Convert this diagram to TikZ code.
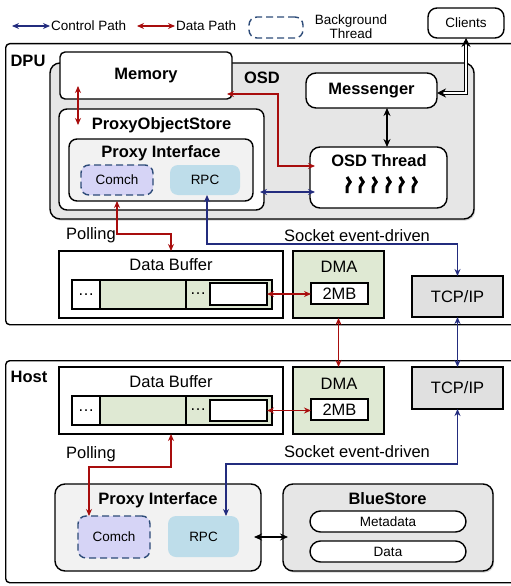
\documentclass[tikz,border=0pt]{standalone}
\usepackage{fontspec}
\setmainfont{Liberation Sans}
\usepackage{tikz}
\usetikzlibrary{arrows.meta, positioning, shadows, decorations.pathmorphing}
\definecolor{ctlblue}{HTML}{232C7E}
\definecolor{datared}{HTML}{A80D0D}
\definecolor{osdgray}{HTML}{E6E6E6}
\definecolor{ifgray}{HTML}{F2F2F2}
\definecolor{tcpgray}{HTML}{E0E0E0}
\definecolor{dmagreen}{HTML}{DFE9D3}
\definecolor{comchfill}{HTML}{D6D4F6}
\definecolor{rpcfill}{HTML}{BEDDEA}
\definecolor{dashblue}{HTML}{2D4B78}
\tikzstyle{frame}=[rectangle,draw,line width=1.4pt,rounded corners=4pt,
  anchor=north west,inner sep=0pt]
\tikzstyle{unit}=[rectangle,draw,line width=1.4pt,rounded corners=8pt,
  inner sep=0pt,outer sep=0pt]
\tikzstyle{plain}=[rectangle,draw,line width=1.2pt,inner sep=0pt,outer sep=0pt]
\tikzstyle{title}=[font=\fontsize{16.5}{18}\selectfont\bfseries,inner sep=1pt]
\tikzstyle{txt}=[font=\fontsize{16.5}{18}\selectfont,inner sep=1pt]
\tikzstyle{small}=[font=\fontsize{13.5}{14}\selectfont,inner sep=1pt]
\tikzstyle{thread}=[rectangle,rounded corners=8pt,fill=comchfill,draw=dashblue,
  dash pattern=on 7pt off 4pt,line width=1.4pt,small,outer sep=0pt]
\tikzstyle{rpcbox}=[rectangle,rounded corners=8pt,fill=rpcfill,small,outer sep=0pt]
\tikzstyle{cell}=[plain,line width=1.4pt,minimum height=29pt,txt]
\tikzstyle{shade}=[drop shadow={shadow xshift=1.2pt,shadow yshift=-1.6pt,opacity=0.35}]
\tikzstyle{ctl}=[{Stealth[length=7pt,width=6pt]}-{Stealth[length=7pt,width=6pt]},
  line width=1.2pt,color=ctlblue]
\tikzstyle{dat}=[{Stealth[length=7pt,width=6pt]}-{Stealth[length=7pt,width=6pt]},
  line width=1.2pt,color=datared]
\tikzstyle{blk}=[{Stealth[length=8pt,width=7pt]}-{Stealth[length=8pt,width=7pt]},
  line width=1.6pt]
\tikzstyle{dbl}=[{Stealth[length=9pt,width=9pt,inset=3pt]}-{Stealth[length=9pt,width=9pt,inset=3pt]},
  double,double distance=1.3pt,line width=1pt]

\begin{document}
\begin{tikzpicture}[x=1pt,y=-1pt]
  \useasboundingbox (0,0) rectangle (511,586);

  % legend
  \coordinate (ctlfrom) at (12,26);
  \node[small,anchor=west] (ctltxt) at (50,26) {Control Path};
  \draw[ctl] (ctlfrom) -- (ctltxt.west);
  \coordinate (datfrom) at (137,26);
  \node[small,anchor=west] (dattxt) at (175,26) {Data Path};
  \draw[dat] (datfrom) -- (dattxt.west);
  \node[thread,fill=none,minimum width=54pt,minimum height=21pt] (bgkey) at (276,27.5) {};
  \node[small,align=center] (bgtxt) at (351,27) {Background\\Thread};
  \node[unit,small,rounded corners=9pt,minimum width=76pt,minimum height=30pt] (clients) at (466,23) {Clients};

  % DPU side
  \node[frame,minimum width=515pt,minimum height=281pt] (dpu) at (5,43) {};
  \node[title] (dpulbl) at (28,61) {DPU};
  \node[unit,fill=osdgray,shade,rounded corners=10pt,minimum width=424pt,minimum height=156pt] (osd) at (262,141) {};
  \node[title] (osdlbl) at (262,78) {OSD};
  \node[unit,fill=white,title,rounded corners=5pt,minimum width=172pt,minimum height=47pt] (memory) at (146,75.5) {Memory};
  \node[unit,fill=white,title,rounded corners=10pt,minimum width=131pt,minimum height=35pt] (messenger) at (371.5,90.5) {Messenger};
  \node[unit,fill=white,rounded corners=10pt,minimum width=137pt,minimum height=61pt] (osdthr) at (378.5,177.5) {};
  \node[title] (thrlbl) at (379,161) {OSD Thread};
  \foreach \sx in {347,360,373,387,400,413}
    \draw[line width=3pt,decorate,decoration={snake,segment length=16pt,amplitude=3.2pt}]
      (\sx,177) -- (\sx,193);

  \node[unit,fill=white,rounded corners=8pt,minimum width=205pt,minimum height=101pt] (pos) at (161.5,159.5) {};
  \node[title] (poslbl) at (161.5,125) {ProxyObjectStore};
  \node[unit,fill=ifgray,rounded corners=8pt,minimum width=184pt,minimum height=62pt] (pif1) at (161,170) {};
  \node[title] (piflbl1) at (161,153) {Proxy Interface};
  \node[thread,minimum width=72pt,minimum height=30pt] (comch1) at (117,180) {Comch};
  \node[rpcbox,minimum width=70pt,minimum height=30pt] (rpc1) at (205,180) {RPC};

  \node[plain,fill=white,minimum width=224pt,minimum height=67pt] (buf1) at (171,284.5) {};
  \node[txt] (buflbl1) at (171,265) {Data Buffer};
  \node[cell,fill=white,minimum width=28pt] (cella1) at (86,294.5) {\dots};
  \node[cell,fill=dmagreen,minimum width=86pt,right=0pt of cella1] (cellb1) {};
  \node[cell,fill=dmagreen,minimum width=86pt,right=0pt of cellb1] (cellc1) {};
  \node[txt] (dots1) at (198,294) {\dots};
  \node[cell,fill=white,minimum width=57pt,minimum height=22pt] (slot1) at (238.5,294) {};
  \node[plain,fill=dmagreen,minimum width=91pt,minimum height=67pt] (dma1) at (338.5,284.5) {};
  \node[txt] (dmalbl1) at (339,267) {DMA};
  \node[plain,line width=1.4pt,fill=white,txt,minimum width=57pt,minimum height=21pt] (mb1) at (339.5,293.5) {2MB};
  \node[plain,fill=tcpgray,txt,minimum width=91pt,minimum height=41pt] (tcp1) at (457.5,296.5) {TCP/IP};

  % Host side
  \node[frame,minimum width=515pt,minimum height=222pt] (host) at (5,360) {};
  \node[title] (hostlbl) at (29,377) {Host};
  \node[plain,fill=white,minimum width=224pt,minimum height=67pt] (buf2) at (171,400.5) {};
  \node[txt] (buflbl2) at (171,382) {Data Buffer};
  \node[cell,fill=white,minimum width=28pt] (cella2) at (86,410.5) {\dots};
  \node[cell,fill=dmagreen,minimum width=86pt,right=0pt of cella2] (cellb2) {};
  \node[cell,fill=dmagreen,minimum width=86pt,right=0pt of cellb2] (cellc2) {};
  \node[txt] (dots2) at (198,410) {\dots};
  \node[cell,fill=white,minimum width=57pt,minimum height=21pt] (slot2) at (238.5,410.5) {};
  \node[plain,fill=dmagreen,minimum width=91pt,minimum height=67pt] (dma2) at (338.5,400.5) {};
  \node[txt] (dmalbl2) at (339,384) {DMA};
  \node[plain,line width=1.4pt,fill=white,txt,minimum width=57pt,minimum height=21pt] (mb2) at (339.5,409.5) {2MB};
  \node[plain,fill=tcpgray,txt,minimum width=91pt,minimum height=42pt] (tcp2) at (457.5,388) {TCP/IP};

  \node[unit,fill=ifgray,rounded corners=10pt,minimum width=206pt,minimum height=87pt] (pif2) at (158,527.5) {};
  \node[title] (piflbl2) at (158,500) {Proxy Interface};
  \node[thread,minimum width=72pt,minimum height=42pt] (comch2) at (114,537) {Comch};
  \node[rpcbox,minimum width=71pt,minimum height=41pt] (rpc2) at (203.5,536.5) {RPC};
  \node[unit,fill=osdgray,shade,rounded corners=10pt,minimum width=210pt,minimum height=87pt] (bluestore) at (388,527.5) {};
  \node[title] (bslbl) at (387.5,499) {BlueStore};
  \node[unit,fill=white,small,rounded corners=10.5pt,minimum width=156pt,minimum height=21pt] (meta) at (388,521.5) {Metadata};
  \node[unit,fill=white,small,rounded corners=10.5pt,minimum width=156pt,minimum height=21pt] (data) at (388,551.5) {Data};

  % paths inside the OSD
  \draw[dbl] (clients.south) |- ([yshift=-2.5pt]messenger.east);
  \draw[blk] ([xshift=15.5pt]messenger.south) -- ([xshift=15.5pt]messenger.south |- osdthr.north);
  \draw[dat] ([xshift=18pt,yshift=13pt]memory.south west) -- ([xshift=19pt,yshift=-16pt]pos.north west);
  \coordinate (membend) at (278,130);
  \draw[dat] ([xshift=-5pt,yshift=-18.5pt]memory.east) -| (membend) |- ([xshift=5pt,yshift=11.5pt]osdthr.west);
  \draw[ctl] ([xshift=-4pt,yshift=-32.5pt]pos.east) -- ([xshift=5pt,yshift=-14.5pt]osdthr.west);

  % DPU polling and socket paths
  \coordinate (pollbend1) at (140,234);
  \draw[dat] (comch1.south |- pif1.south) |- (pollbend1) -| (buf1.north);
  \node[txt] (polllbl1) at (91,235) {Polling};
  \coordinate (sockbend1) at (300,244);
  \draw[ctl] ([xshift=2pt]rpc1.south) |- (sockbend1) -| (tcp1.north);
  \node[txt] (socklbl1) at (357,236) {Socket event-driven};
  \draw[dat] (slot1.east) -- (slot1.east -| mb1.west);

  % DPU to host
  \draw[dat] (dma1.south) -- (dma2.north);
  \draw[ctl] (tcp1.south) -- (tcp2.north);

  % host polling and socket paths
  \draw[dat] (slot2.east) -- (slot2.east -| mb2.west);
  \coordinate (pollbend2) at (130,467);
  \draw[dat] (buf2.south) |- (pollbend2) -| ([xshift=-25pt]comch2.north);
  \node[txt] (polllbl2) at (91,454) {Polling};
  \coordinate (sockbend2) at (300,464);
  \draw[ctl] (tcp2.south) |- (sockbend2) -| ([xshift=22.5pt]rpc2.north);
  \node[txt] (socklbl2) at (357,452) {Socket event-driven};
  \draw[blk] ([xshift=-7pt,yshift=-9.5pt]pif2.east) -- ([xshift=5pt,yshift=-9.5pt]bluestore.west);
\end{tikzpicture}
\end{document}
